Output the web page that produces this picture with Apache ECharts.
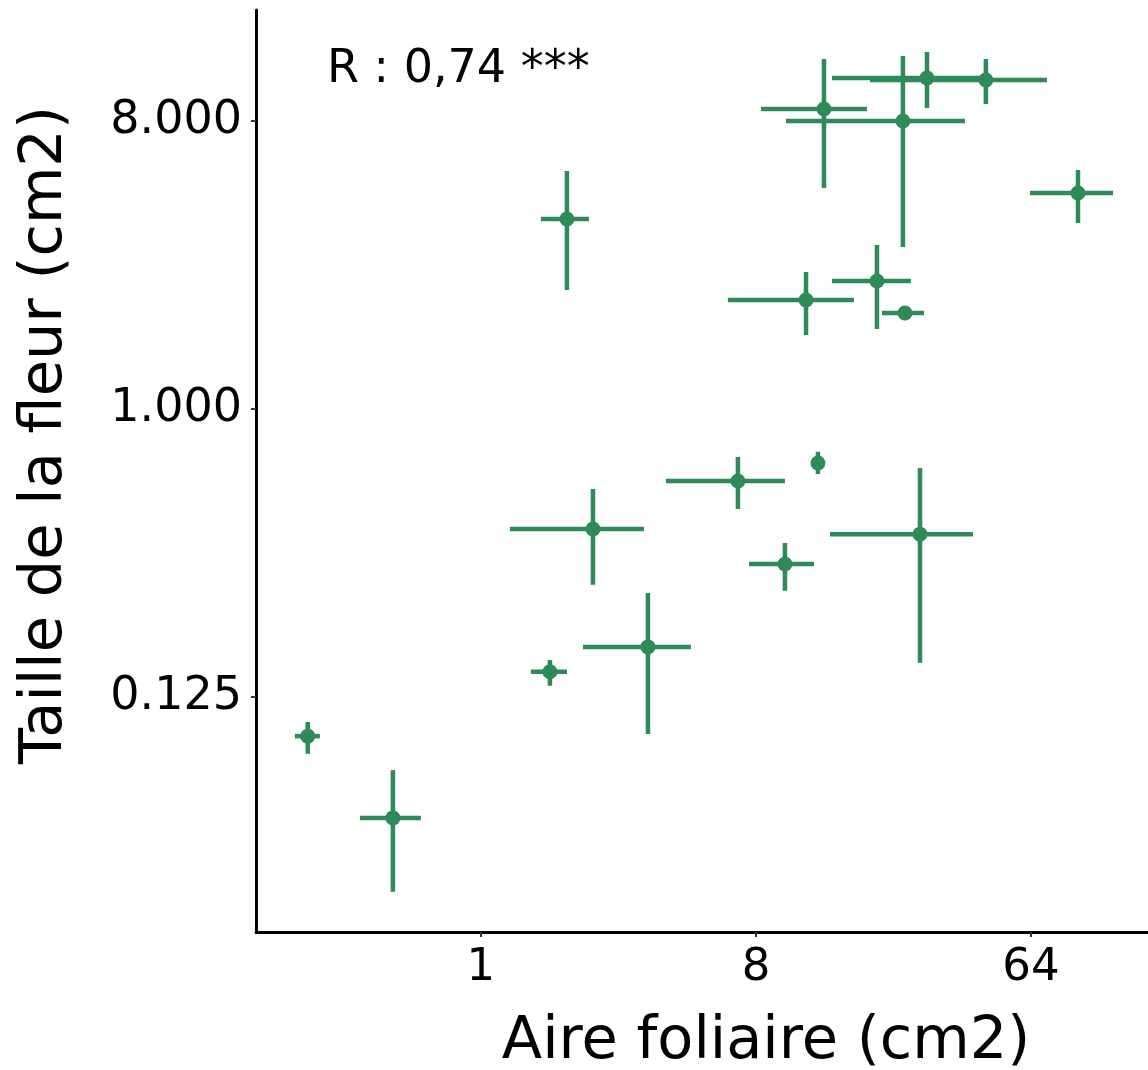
<!DOCTYPE html>
<html>
<head>
<meta charset="utf-8">
<script src="https://cdn.jsdelivr.net/npm/echarts@6/dist/echarts.min.js"></script>
<style>
  html, body { margin: 0; padding: 0; background: #fff; }
  #chart { width: 1148px; height: 1070px; }
</style>
</head>
<body>
<div id="chart"></div>
<script>
// moyennes et barres d'erreur (cm2)
var xMean = [0.270, 0.514, 1.685, 1.916, 2.333, 3.535, 6.98, 9.96, 12.78, 11.68, 13.38, 19.97, 24.68, 24.3, 27.65, 29.15, 45.5, 91.3];
var xLow  = [0.245, 0.401, 1.459, 1.574, 1.245, 2.163, 4.05, 7.59, 12.4, 6.47, 8.31, 14.21, 20.74, 10.04, 14.0, 14.21, 18.94, 63.5];
var xHigh = [0.296, 0.635, 1.916, 2.263, 3.43, 4.893, 9.96, 12.41, 13.2, 16.78, 18.52, 25.8, 28.5, 38.85, 41.27, 44.1, 72.2, 119];
var yMean = [0.0942, 0.0522, 0.150, 3.943, 0.4204, 0.1794, 0.5946, 0.3264, 0.677, 2.197, 8.724, 2.52, 2.0, 8.0, 0.405, 10.91, 10.76, 4.757];
var yLow  = [0.0829, 0.0306, 0.1355, 2.361, 0.281, 0.0957, 0.486, 0.269, 0.625, 1.706, 4.93, 1.782, 1.90, 3.22, 0.160, 8.79, 9.04, 3.830];
var yHigh = [0.1043, 0.0737, 0.1633, 5.576, 0.561, 0.265, 0.707, 0.380, 0.734, 2.689, 12.52, 3.268, 2.10, 12.79, 0.653, 13.17, 12.52, 5.617];

var xTicks = [1, 8, 64];
var yTicks = [0.125, 1, 8];
var annotation = 'R : 0,74 ***';

var green = '#2E8B57';
var font = 'DejaVu Sans';

var points = [];
var bars = [];
for (var i = 0; i < xMean.length; i++) {
    points.push([xMean[i], yMean[i]]);
    bars.push([xMean[i], yMean[i], xLow[i], xHigh[i], yLow[i], yHigh[i]]);
}

var myChart = echarts.init(document.getElementById('chart'));
var option = {
    animation: false,
    grid: { left: 256, right: 0, top: 10, bottom: 138, outerBoundsMode: 'none', containLabel: false },
    xAxis: {
        type: 'log',
        logBase: 2,
        min: 0.1826,
        max: 155,
        name: 'Aire foliaire (cm2)',
        nameLocation: 'middle',
        nameGap: 81,
        nameTextStyle: { fontFamily: font, fontSize: 59, color: '#000', padding: [0, 0, 0, 128] },
        axisLine: { lineStyle: { color: '#000', width: 3 } },
        axisTick: { customValues: xTicks, length: 5, lineStyle: { color: '#333', width: 2 } },
        axisLabel: {
            customValues: xTicks,
            fontFamily: font,
            fontSize: 45,
            color: '#000',
            margin: 14
        },
        splitLine: { show: false }
    },
    yAxis: {
        type: 'log',
        logBase: 2,
        min: 0.0229,
        max: 17.83,
        name: 'Taille de la fleur (cm2)',
        nameLocation: 'middle',
        nameGap: 181,
        nameTextStyle: { fontFamily: font, fontSize: 59, color: '#000', padding: [0, 0, 0, 72] },
        axisLine: { lineStyle: { color: '#000', width: 3 } },
        axisTick: { customValues: yTicks, length: 5, lineStyle: { color: '#333', width: 2 } },
        axisLabel: {
            customValues: yTicks,
            fontFamily: font,
            fontSize: 46,
            color: '#000',
            margin: 14,
            formatter: function (v) { return Number(v).toFixed(3); }
        },
        splitLine: { show: false }
    },
    graphic: [{
        type: 'text',
        left: 327,
        top: 47,
        style: { text: annotation, font: '46px "DejaVu Sans"', fill: '#000' }
    }],
    series: [
        {
            type: 'custom',
            encode: { x: [0, 2, 3], y: [1, 4, 5] },
            data: bars,
            renderItem: function (params, api) {
                var c = api.coord([api.value(0), api.value(1)]);
                var l = api.coord([api.value(2), api.value(1)]);
                var r = api.coord([api.value(3), api.value(1)]);
                var lo = api.coord([api.value(0), api.value(4)]);
                var hi = api.coord([api.value(0), api.value(5)]);
                var st = { stroke: green, lineWidth: 4.5 };
                return {
                    type: 'group',
                    children: [
                        { type: 'line', shape: { x1: l[0], y1: c[1], x2: r[0], y2: c[1] }, style: st },
                        { type: 'line', shape: { x1: c[0], y1: hi[1], x2: c[0], y2: lo[1] }, style: st }
                    ]
                };
            },
            z: 2
        },
        {
            type: 'scatter',
            data: points,
            symbol: 'circle',
            symbolSize: 15,
            itemStyle: { color: green, opacity: 1 },
            z: 3
        }
    ]
};
myChart.setOption(option);
</script>
</body>
</html>
